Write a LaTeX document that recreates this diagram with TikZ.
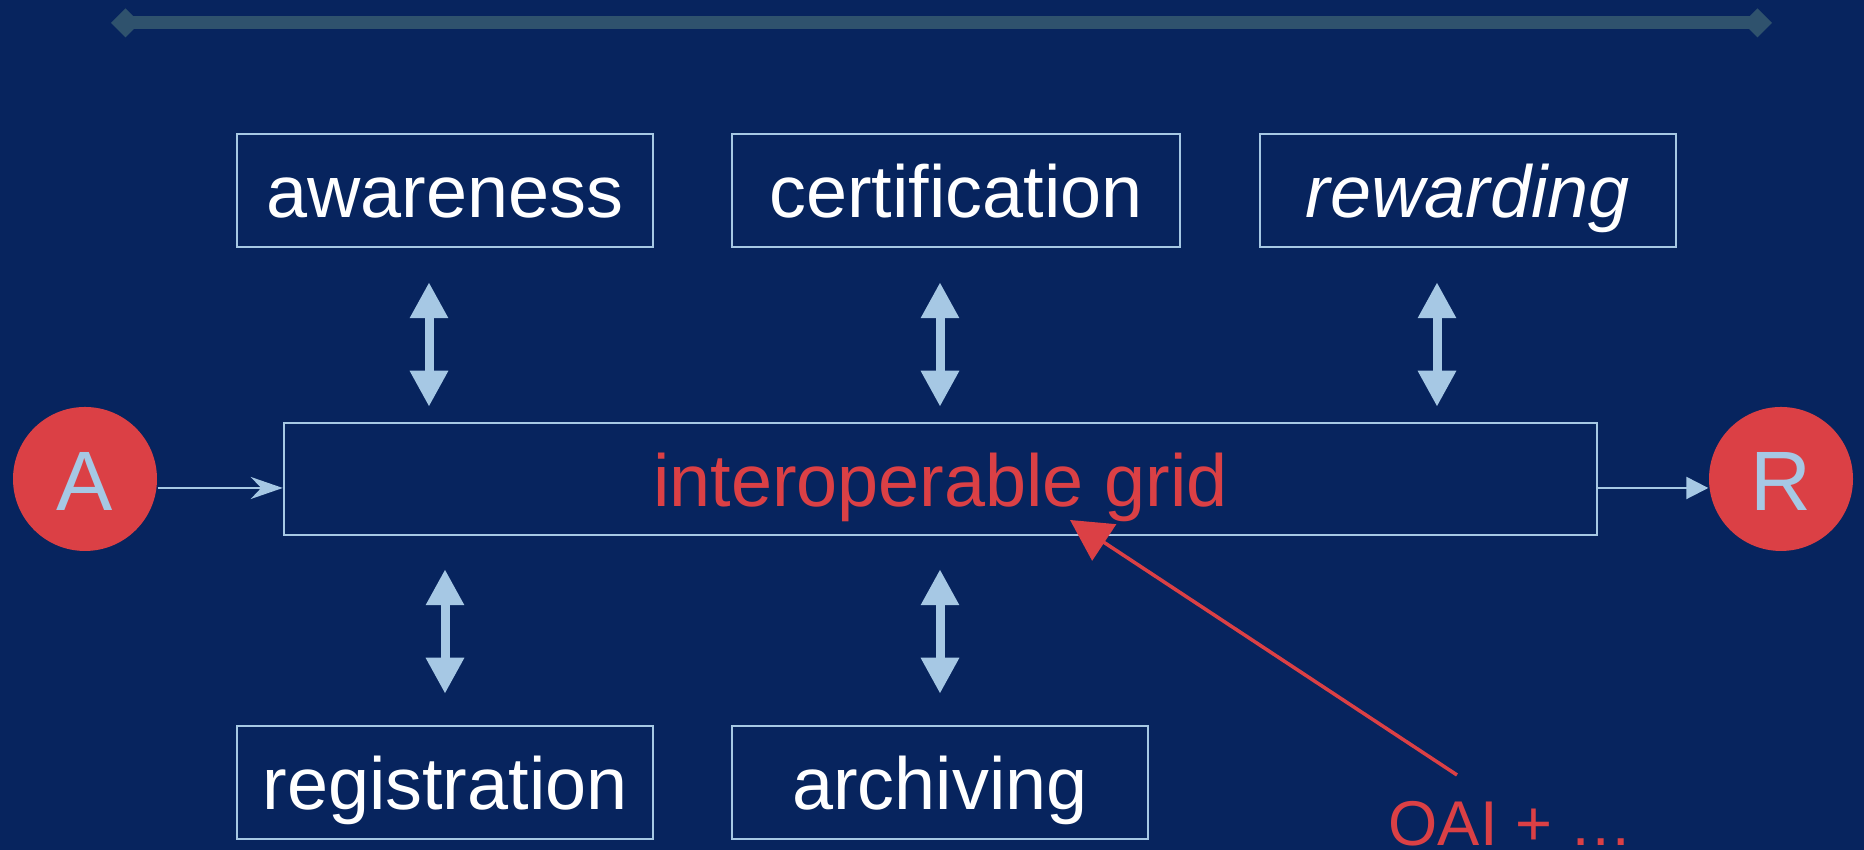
\documentclass[tikz,border=0pt]{standalone}
\usepackage{fontspec}
\setmainfont{Liberation Sans}
\usetikzlibrary{arrows.meta,calc}

\definecolor{navybg}{RGB}{7,36,94}
\definecolor{barblue}{RGB}{47,82,109}
\definecolor{paleblue}{RGB}{166,200,228}
\definecolor{gridred}{RGB}{219,64,69}

\begin{document}
\begin{tikzpicture}[
    scale=1.0,
    stagebox/.style={draw=paleblue, line width=0.7pt, text=white, inner sep=0pt,
      minimum width=4.16cm, minimum height=1.13cm,
      font=\fontsize{21}{25}\selectfont, text height=0.7cm, text depth=0.15cm},
    actor/.style={circle, fill=gridred, text=paleblue, inner sep=0pt, minimum size=1.44cm,
      font=\fontsize{24}{28}\selectfont, text height=0.75cm, text depth=0.11cm},
    flow/.style={draw=paleblue, line width=0.6pt},
    dbl/.style={draw=paleblue, line width=0.09cm,
      {Triangle[length=0.36cm,width=0.36cm]}-{Triangle[length=0.36cm,width=0.36cm]}}
  ]

    % Background and page size
    \fill[navybg] (0,0) rectangle (18.64,8.50);
    \useasboundingbox (0,0) rectangle (18.64,8.50);

    % Title bar
    \draw[barblue, line width=0.13cm,
      {Diamond[length=0.29cm,width=0.29cm]}-{Diamond[length=0.29cm,width=0.29cm]}]
      (1.11,8.27) -- (17.72,8.27);

    % Upper row
    \node[stagebox] (aware) at (4.45, 6.595) {awareness};
    \node[stagebox, minimum width=4.48cm] (cert) at (9.56, 6.595) {certification};
    \node[stagebox, font=\fontsize{21}{25}\selectfont\itshape] (reward) at (14.68, 6.595) {rewarding};

    % Central grid
    \node[stagebox, minimum width=13.13cm, minimum height=1.12cm, text=gridred] (grid) at (9.405, 3.71) {interoperable grid};

    % Lower row
    \node[stagebox] (reg) at (4.45, 0.675) {registration};
    \node[stagebox] (arch) at (9.40, 0.675) {archiving};

    % Author and reader
    \node[actor] (A) at (0.85, 3.71) {A};
    \node[actor] (R) at (17.81, 3.71) {R};

    \draw[flow, -{Stealth[length=0.32cm,width=0.22cm]}]
      ([yshift=-0.09cm]A.east) -- ([yshift=-0.09cm]grid.west);
    \draw[flow, -{Triangle[length=0.22cm,width=0.22cm]}]
      ([yshift=-0.09cm]grid.east) -- ([yshift=-0.09cm]R.west);

    % Links to the grid
    \draw[dbl] ($(aware.south)+(-0.16,-0.34)$) -- ($(aware.south |- grid.north)+(-0.16,0.15)$);
    \draw[dbl] ($(cert.south)+(-0.16,-0.34)$) -- ($(cert.south |- grid.north)+(-0.16,0.15)$);
    \draw[dbl] ($(reward.south)+(-0.31,-0.34)$) -- ($(reward.south |- grid.north)+(-0.31,0.15)$);
    \draw[dbl] ($(reg.north |- grid.south)+(0,-0.33)$) -- ($(reg.north)+(0,0.31)$);
    \draw[dbl] ($(arch.north |- grid.south)+(0,-0.33)$) -- ($(arch.north)+(0,0.31)$);

    % OAI pointer
    \node[anchor=base west, text=gridred, inner sep=0pt, font=\fontsize{18}{22}\selectfont] (oai) at (13.88, 0.04) {OAI + \dots};
    \coordinate (oaiend) at (14.57, 0.75);
    \coordinate (gridpin) at (10.70, 3.30);
    \draw[gridred, line width=1pt, -{Triangle[length=0.41cm,width=0.43cm]}] (oaiend) -- (gridpin);

  \end{tikzpicture}
\end{document}
